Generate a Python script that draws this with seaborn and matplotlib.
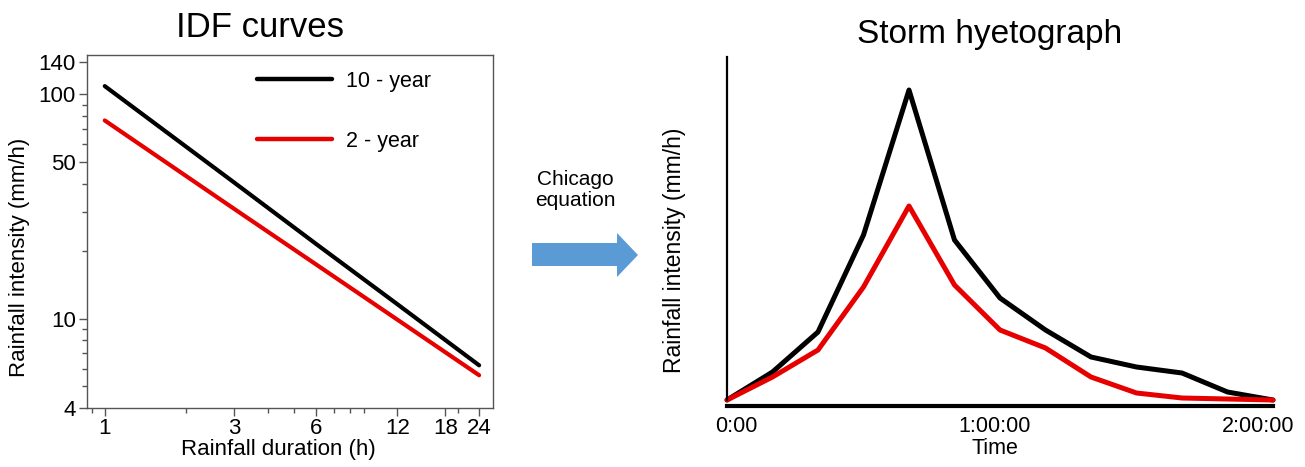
import numpy as np
import pandas as pd
import matplotlib
matplotlib.use("Agg")
import matplotlib.pyplot as plt
import matplotlib.transforms as mtransforms
from matplotlib.patches import Polygon
from matplotlib.ticker import FixedLocator, NullFormatter, FixedFormatter
import seaborn as sns

# ---------------- data ----------------
duration_h = [1, 3, 6, 12, 24]
idf_10yr = [109, 40.5, 21.6, 11.6, 6.2]
idf_2yr = [76.6, 30.9, 17.5, 9.9, 5.6]
series_names = ["10 - year", "2 - year"]

idf_xticks = [1, 3, 6, 12, 18, 24]
idf_xminor = [0.9, 2, 4, 5, 7, 8, 9, 20]
idf_yticks = [4, 10, 50, 100, 140]
idf_yminor = [5, 6, 7, 8, 9, 20, 30, 40, 60, 70, 80, 90]

time_min = [0, 10, 20, 30, 40, 50, 60, 70, 80, 90, 100, 110, 120]
hyeto_10yr = [0, 14, 34, 82.5, 155, 80, 51, 35, 21.5, 16.5, 13.5, 4, 0]
hyeto_2yr = [0, 11.5, 25, 56.5, 97, 57.5, 35, 26, 11.5, 3.5, 1, 0.5, 0]
time_ticks = [0, 60, 120]
time_labels = ["0:00", "1:00:00", "2:00:00"]

BLACK = "#000000"
RED = "#e60000"
ARROW = "#5b9bd5"

sns.set_theme(style="white")
plt.rcParams["font.family"] = ["Liberation Sans", "DejaVu Sans"]
plt.rcParams["text.color"] = "black"
plt.rcParams["axes.labelcolor"] = "black"
plt.rcParams["xtick.color"] = "black"
plt.rcParams["ytick.color"] = "black"

W, H = 1305, 467
fig = plt.figure(figsize=(W / 100, H / 100), dpi=100)

def rect(x0, y0, x1, y1):
    return [x0 / W, 1 - y1 / H, (x1 - x0) / W, (y1 - y0) / H]

# ---------------- IDF curves ----------------
df_idf = pd.DataFrame({
    "duration": duration_h * 2,
    "intensity": idf_10yr + idf_2yr,
    "series": [series_names[0]] * len(duration_h) + [series_names[1]] * len(duration_h),
})
ax1 = fig.add_axes(rect(87, 55, 493, 408))
sns.lineplot(data=df_idf, x="duration", y="intensity", hue="series",
             palette=[BLACK, RED], hue_order=series_names, linewidth=3.0, ax=ax1)
ax1.set_xscale("log")
ax1.set_yscale("log")
ax1.set_xlim(0.86, 27)
ax1.set_ylim(4, 150)
ax1.xaxis.set_major_locator(FixedLocator(idf_xticks))
ax1.xaxis.set_major_formatter(FixedFormatter([str(v) for v in idf_xticks]))
ax1.xaxis.set_minor_locator(FixedLocator(idf_xminor))
ax1.xaxis.set_minor_formatter(NullFormatter())
ax1.yaxis.set_major_locator(FixedLocator(idf_yticks))
ax1.yaxis.set_major_formatter(FixedFormatter([str(v) for v in idf_yticks]))
ax1.yaxis.set_minor_locator(FixedLocator(idf_yminor))
ax1.yaxis.set_minor_formatter(NullFormatter())
for sp in ax1.spines.values():
    sp.set_color("#555555")
    sp.set_linewidth(1.0)
ax1.tick_params(axis="both", which="major", direction="out", length=6, width=1,
                color="#555555", labelsize=16, labelcolor="black", bottom=True, left=True)
ax1.tick_params(axis="x", which="major", pad=1)
ax1.tick_params(axis="y", which="major", pad=2)
ax1.tick_params(axis="both", which="minor", direction="out", length=3.5, width=1,
                color="#555555", bottom=True, left=True)
ax1.set_xlabel("Rainfall duration (h)", fontsize=16, va="center", color="black")
ax1.set_ylabel("Rainfall intensity (mm/h)", fontsize=16, va="center", color="black")
ax1.xaxis.set_label_coords((278 - 87) / 406, -(450 - 408) / 353)
ax1.yaxis.set_label_coords((20 - 87) / 406, (408 - 257) / 353)
h, l = ax1.get_legend_handles_labels()
leg = ax1.legend(h, l, loc="upper left", bbox_to_anchor=((257 - 87) / 406, (408 - 71) / 353),
                 frameon=False, fontsize=15.5, handlelength=3.5, handletextpad=0.65,
                 labelspacing=1.8, borderpad=0, borderaxespad=0, labelcolor="black")
for line in leg.get_lines():
    line.set_linewidth(3.2)

fig.text(260 / W, 1 - 37 / H, "IDF curves", ha="center", va="baseline", fontsize=25,
         color="black")

# ---------------- Storm hyetograph ----------------
df_h = pd.DataFrame({
    "time": time_min * 2,
    "intensity": hyeto_10yr + hyeto_2yr,
    "series": [series_names[0]] * len(time_min) + [series_names[1]] * len(time_min),
})
ax2 = fig.add_axes(rect(727, 57, 1273, 400))
sns.lineplot(data=df_h, x="time", y="intensity", hue="series",
             palette=[BLACK, RED], hue_order=series_names, linewidth=3.6,
             legend=False, ax=ax2)
for ln in ax2.lines:
    ln.set_clip_on(False)
ax2.set_xlim(0, 120)
ax2.set_ylim(0, 171.5)
ax2.spines["top"].set_visible(False)
ax2.spines["right"].set_visible(False)
ax2.spines["left"].set_color("black")
ax2.spines["left"].set_linewidth(1.6)
ax2.spines["bottom"].set_color("black")
ax2.spines["bottom"].set_linewidth(3.0)
ax2.spines["bottom"].set_position(("outward", 4.3))
ax2.set_yticks([])
ax2.set_xticks(time_ticks)
ax2.set_xticklabels(time_labels)
ax2.tick_params(axis="x", length=0, pad=7, labelsize=15.5, labelcolor="black")
offsets = [9, -5, -15]
for lab, dx in zip(ax2.get_xticklabels(), offsets):
    lab.set_transform(lab.get_transform() +
                      mtransforms.ScaledTranslation(dx / 100, 0, fig.dpi_scale_trans))
ax2.set_xlabel("Time", fontsize=15.5, va="center", color="black")
ax2.xaxis.set_label_coords((995 - 727) / 546, -(448 - 400) / 343)
ax2.set_ylabel("Rainfall intensity (mm/h)", fontsize=16.5, va="center", color="black")
ax2.yaxis.set_label_coords((675 - 727) / 546, (400 - 250) / 343)

fig.text(990 / W, 1 - 43 / H, "Storm hyetograph", ha="center", va="baseline", fontsize=24,
         color="black")

# ---------------- arrow + annotation ----------------
ov = fig.add_axes([0, 0, 1, 1], zorder=-1)
ov.set_xlim(0, W)
ov.set_ylim(H, 0)
ov.axis("off")
ov.add_patch(Polygon([(532, 243), (617, 243), (617, 233), (638, 255),
                      (617, 277), (617, 266), (532, 266)],
                     closed=True, facecolor=ARROW, edgecolor="none"))
ov.text(575, 190, "Chicago\nequation", ha="center", va="center",
        fontsize=15, linespacing=1.1, color="black")

fig.savefig("out.png", dpi=100, facecolor="white")
